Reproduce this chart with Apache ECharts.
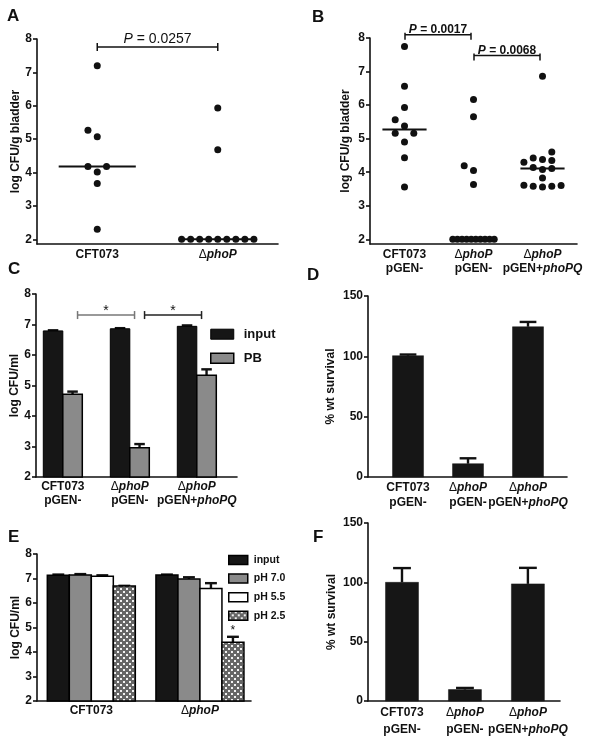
<!DOCTYPE html>
<html><head><meta charset="utf-8">
<script src="https://cdn.jsdelivr.net/npm/echarts@6/dist/echarts.min.js"></script>
<style>html,body{margin:0;padding:0;background:#fff}#c{width:602px;height:742px}</style>
</head><body><div id="c"></div>
<script>
// ===================== DATA =====================
const groups2 = ['CFT073', 'ΔphoP'];
const groups3 = ['CFT073\npGEN-', 'ΔphoP\npGEN-', 'ΔphoP\npGEN+phoPQ'];
const logTicks = [2, 3, 4, 5, 6, 7, 8];
const pctTicks = [0, 50, 100, 150];

// Panel A (log CFU/g bladder, individual mice)
const A_CFT073 = [7.2, 5.07, 5.27, 4.02, 4.18, 4.18, 3.67, 2.3];
const A_phoP = [5.93, 4.68, 2, 2, 2, 2, 2, 2, 2, 2, 2];
const A_pvalues = ['P = 0.0257'];
const A_bracketY = [7.76];

// Panel B
const B_CFT073 = [7.75, 6.56, 5.93, 5.38, 4.90, 5.56, 5.16, 5.16, 4.43, 3.56];
const B_phoP = [6.17, 5.65, 4.05, 4.19, 3.63, 2, 2, 2, 2, 2, 2, 2, 2, 2, 2];
const B_phoPQ = [6.86, 3.56, 3.58, 3.58, 3.61, 3.60, 3.83, 4.08, 4.14, 4.11, 4.30, 4.38, 4.42, 4.35, 4.60];
const B_pvalues = ['P = 0.0017', 'P = 0.0068'];
const B_bracketY = [8.10, 7.48];

// Panel C (polymyxin B)
const C_series = ['input', 'PB'];
const C_input = [6.79, 6.86, 6.94];
const C_input_err = [0.02, 0.02, 0.03];
const C_PB = [4.71, 2.96, 5.34];
const C_PB_err = [0.09, 0.12, 0.19];
const C_sig = ['*', '*'];
const C_bracketY = [7.31, 7.31];

// Panel D
const D_values = [100.5, 11, 124.5];
const D_err = [1, 4.5, 4];

// Panel E (acid)
const E_series = ['input', 'pH 7.0', 'pH 5.5', 'pH 2.5'];
const E_input = [7.13, 7.14];
const E_input_err = [0.03, 0.02];
const E_ph70 = [7.14, 6.98];
const E_ph70_err = [0.04, 0.07];
const E_ph55 = [7.09, 6.59];
const E_ph55_err = [0.04, 0.22];
const E_ph25 = [6.69, 4.40];
const E_ph25_err = [0.01, 0.22];
const E_ph25_sig = ['', '*'];

// Panel F
const F_values = [100, 9.6, 98.7];
const F_err = [12, 1.4, 13.5];

// ===================== HELPERS =====================
const FONT = "'Liberation Sans', Arial, Helvetica, sans-serif";
const INK = '#111';
const BLACK = '#161616';
const GRAY = '#8a8a8a';

const pat = document.createElement('canvas');
pat.width = 6; pat.height = 6;
(function () {
  const g = pat.getContext('2d');
  g.fillStyle = '#666'; g.fillRect(0, 0, 6, 6);
  g.fillStyle = '#f2f2f2'; g.fillRect(0, 0, 2, 2); g.fillRect(3, 3, 2, 2);
})();
const PATTERN = { image: pat, repeat: 'repeat' };

function median(a) {
  const s = a.slice().sort((x, y) => x - y);
  const n = s.length;
  return n % 2 ? s[(n - 1) / 2] : (s[n / 2 - 1] + s[n / 2]) / 2;
}

function richText(line) {
  return line.split(/(Δ|pho[A-Z]+)/).filter(t => t).map(t => {
    if (t === 'Δ') return '{d|Δ}';
    if (/^pho/.test(t)) return '{i|' + t + '}';
    return '{b|' + t + '}';
  }).join('');
}
function richLabel(label) { return label.split('\n').map(richText).join('\n'); }
function richStyles(lh, fs) {
  const base = { fontFamily: FONT, fontSize: fs || 12, color: INK, lineHeight: lh };
  return {
    b: Object.assign({}, base, { fontWeight: 'bold' }),
    i: Object.assign({}, base, { fontWeight: 'bold', fontStyle: 'italic' }),
    d: Object.assign({}, base, { fontWeight: 'normal' })
  };
}

const grids = [];
const xAxes = [];
const yAxes = [];
const series = [];

function addPanel(g) {
  const gi = grids.length;
  grids.push({ left: g.left, top: g.top, width: g.width, height: g.height, containLabel: false, outerBoundsMode: 'none' });
  xAxes.push({
    type: 'value', gridIndex: gi, min: g.xmin, max: g.xmax,
    axisLine: { show: true, onZero: false, lineStyle: { color: INK, width: 1.6 } },
    axisTick: { show: false }, splitLine: { show: false },
    axisLabel: {
      margin: g.labelMargin, customValues: g.labels.map((_, i) => i), hideOverlap: false,
      showMinLabel: true, showMaxLabel: true,
      formatter: v => richLabel(g.labels[Math.round(v)]),
      rich: richStyles(g.lineHeight), fontFamily: FONT, fontSize: 12
    }
  });
  yAxes.push({
    type: 'value', gridIndex: gi, min: g.ymin, max: g.ymax,
    axisLine: { show: true, onZero: false, lineStyle: { color: INK, width: 1.6 } },
    axisTick: { show: true, length: 4, customValues: g.ticks, lineStyle: { color: INK, width: 1.6 } },
    axisLabel: { margin: 5, customValues: g.ticks, hideOverlap: false, fontFamily: FONT, fontWeight: 'bold', fontSize: 12, color: INK },
    splitLine: { show: false },
    name: g.yName, nameLocation: 'middle', nameRotate: 90, nameGap: g.nameGap, nameMoveOverlap: false,
    nameTextStyle: { fontFamily: FONT, fontWeight: 'bold', fontSize: 12, color: INK }
  });
  return gi;
}

// beeswarm offsets (px) computed from the values and data order
function beeswarm(values, pxY, step, T, maxHalf) {
  const counts = {};
  values.forEach(v => { counts[v] = (counts[v] || 0) + 1; });
  const offs = new Array(values.length);
  const placed = [];
  const ties = {};
  values.forEach((v, i) => { if (counts[v] > 5) (ties[v] = ties[v] || []).push(i); });
  Object.keys(ties).forEach(k => {
    const idx = ties[k], n = idx.length;
    const half = Math.min(maxHalf, (n - 1) * step / 2);
    idx.forEach((i, j) => { offs[i] = -half + j * 2 * half / (n - 1); placed.push([offs[i], values[i] * pxY]); });
  });
  values.forEach((v, i) => {
    if (offs[i] !== undefined) return;
    for (let k = 0; k < 40; k++) {
      const slot = k === 0 ? 0 : (k % 2 === 1 ? -Math.ceil(k / 2) : Math.ceil(k / 2));
      const x = slot * step;
      const hit = placed.some(p => Math.abs(p[0] - x) < step * 0.9 && Math.abs(p[1] - v * pxY) < T);
      if (!hit) { offs[i] = x; placed.push([x, v * pxY]); break; }
    }
  });
  return offs;
}

function addScatterGroups(gi, g, groups) {
  const pxX = g.width / (g.xmax - g.xmin);
  const pxY = g.height / (g.ymax - g.ymin);
  const pts = [];
  const meds = [];
  groups.forEach((vals, c) => {
    const offs = beeswarm(vals, pxY, 9.3, 8, 0.3 * pxX);
    vals.forEach((v, i) => pts.push([c + offs[i] / pxX, v]));
    meds.push([c, median(vals)]);
  });
  series.push({
    type: 'custom', xAxisIndex: gi, yAxisIndex: gi, data: meds, z: 2,
    renderItem: (params, api) => {
      const a = api.coord([api.value(0) - 0.32, api.value(1)]);
      const b = api.coord([api.value(0) + 0.32, api.value(1)]);
      return { type: 'line', shape: { x1: a[0], y1: a[1], x2: b[0], y2: b[1] }, style: { stroke: INK, lineWidth: 2 } };
    }
  });
  series.push({
    type: 'scatter', xAxisIndex: gi, yAxisIndex: gi, data: pts, symbol: 'circle', symbolSize: 7, z: 3,
    itemStyle: { color: INK, opacity: 1 }, silent: true
  });
}

function addBrackets(gi, pairs, ys, texts, opt) {
  series.push({
    type: 'custom', xAxisIndex: gi, yAxisIndex: gi, z: 4,
    data: pairs.map((p, i) => [p[0], p[1], ys[i]]),
    renderItem: (params, api) => {
      const i = params.dataIndex;
      const a = api.coord([api.value(0), api.value(2)]);
      const b = api.coord([api.value(1), api.value(2)]);
      const x1 = a[0] + opt.dxL, x2 = b[0] + opt.dxR, y = a[1];
      const col = opt.colors ? opt.colors[i] : INK;
      const t = texts[i];
      const txt = t.charAt(0) === 'P' ? '{pi|P}{pr|' + t.slice(1) + '}' : '{s|' + t + '}';
      return {
        type: 'group', children: [
          { type: 'line', shape: { x1: x1, y1: y, x2: x2, y2: y }, style: { stroke: col, lineWidth: 1.5 } },
          { type: 'line', shape: { x1: x1, y1: y + opt.t0, x2: x1, y2: y + opt.t1 }, style: { stroke: col, lineWidth: 1.5 } },
          { type: 'line', shape: { x1: x2, y1: y + opt.t0, x2: x2, y2: y + opt.t1 }, style: { stroke: col, lineWidth: 1.5 } },
          {
            type: 'text', x: (x1 + x2) / 2, y: y - opt.textOff,
            style: {
              text: txt, align: 'center', verticalAlign: 'middle',
              rich: {
                pi: { fontFamily: FONT, fontSize: opt.fs, fontWeight: opt.fw, fontStyle: 'italic', fill: INK },
                pr: { fontFamily: FONT, fontSize: opt.fs, fontWeight: opt.fw, fill: INK },
                s: { fontFamily: FONT, fontSize: opt.fs, fontWeight: 'normal', fill: INK }
              }
            }
          }
        ]
      };
    }
  });
}

function addBars(gi, name, vals, errs, o) {
  series.push({
    type: 'custom', name: name, xAxisIndex: gi, yAxisIndex: gi, z: 2,
    itemStyle: { color: o.fill, borderColor: o.stroke, borderWidth: o.lw },
    data: vals.map((v, i) => [i, v, errs[i]]),
    renderItem: (params, api) => {
      const i = api.value(0), v = api.value(1), e = api.value(2);
      const p0 = api.coord([i, o.base]), p1 = api.coord([i, v]), p2 = api.coord([i, v + e]);
      const cx = p0[0] + o.off, w = o.w, cap = w * 0.54;
      const ch = [
        { type: 'line', shape: { x1: cx, y1: p1[1], x2: cx, y2: p2[1] }, style: { stroke: INK, lineWidth: 2.4 } },
        { type: 'line', shape: { x1: cx - cap / 2, y1: p2[1], x2: cx + cap / 2, y2: p2[1] }, style: { stroke: INK, lineWidth: 2.4 } },
        { type: 'rect', shape: { x: cx - w / 2, y: p1[1], width: w, height: p0[1] - p1[1] }, style: { fill: o.fill, stroke: o.stroke, lineWidth: o.lw } }
      ];
      if (o.sig && o.sig[params.dataIndex]) {
        ch.push({ type: 'text', x: cx, y: p2[1] - 6, style: { text: o.sig[params.dataIndex], align: 'center', verticalAlign: 'middle', fontFamily: FONT, fontSize: 12, fill: INK } });
      }
      return { type: 'group', children: ch };
    }
  });
}

// ===================== PANELS =====================
// A
const gA = { left: 37, top: 39, width: 241, height: 205, xmin: -0.5, xmax: 1.5, ymin: 1.86, ymax: 8, ticks: logTicks,
  labels: groups2, labelMargin: 4, lineHeight: 14, yName: 'log CFU/g bladder', nameGap: 15 };
const iA = addPanel(gA);
addScatterGroups(iA, gA, [A_CFT073, A_phoP]);
addBrackets(iA, [[0, 1]], A_bracketY, A_pvalues, { dxL: 0, dxR: 0, t0: -4, t1: 4, textOff: 7.5, fs: 14, fw: 'normal' });

// B
const gB = { left: 370, top: 38, width: 207, height: 206, xmin: -0.5, xmax: 2.5, ymin: 1.86, ymax: 8, ticks: logTicks,
  labels: groups3, labelMargin: 4, lineHeight: 14, yName: 'log CFU/g bladder', nameGap: 18 };
const iB = addPanel(gB);
addScatterGroups(iB, gB, [B_CFT073, B_phoP, B_phoPQ]);
addBrackets(iB, [[0, 1], [1, 2]], B_bracketY, B_pvalues, { dxL: 0.5, dxR: -2.5, t0: -2, t1: 5, textOff: 5, fs: 12, fw: 'bold' });

// C
const gC = { left: 36, top: 294, width: 201, height: 183, xmin: -0.4, xmax: 2.6, ymin: 2, ymax: 8, ticks: logTicks,
  labels: groups3, labelMargin: 3, lineHeight: 14, yName: 'log CFU/ml', nameGap: 15 };
const iC = addPanel(gC);
addBars(iC, C_series[0], C_input, C_input_err, { base: 2, off: -9.75, w: 19.5, fill: BLACK, stroke: '#000', lw: 1 });
addBars(iC, C_series[1], C_PB, C_PB_err, { base: 2, off: 9.75, w: 19.5, fill: GRAY, stroke: '#000', lw: 1.5 });
addBrackets(iC, [[0, 1], [1, 2]], C_bracketY, C_sig, { dxL: 14.75, dxR: 4.75, t0: -4, t1: 4, textOff: 3.5, fs: 14, fw: 'normal', colors: ['#777', '#222'] });

// D
const gD = { left: 368, top: 296, width: 199, height: 181, xmin: -0.667, xmax: 2.65, ymin: 0, ymax: 150, ticks: pctTicks,
  labels: groups3, labelMargin: 3, lineHeight: 15, yName: '% wt survival', nameGap: 31 };
const iD = addPanel(gD);
addBars(iD, 'D', D_values, D_err, { base: 0, off: 0, w: 31, fill: BLACK, stroke: BLACK, lw: 0.5 });

// E
const gE = { left: 37, top: 554, width: 214, height: 147, xmin: -0.5, xmax: 1.47, ymin: 2, ymax: 8, ticks: logTicks,
  labels: groups2, labelMargin: 3, lineHeight: 14, yName: 'log CFU/ml', nameGap: 15 };
const iE = addPanel(gE);
addBars(iE, E_series[0], E_input, E_input_err, { base: 2, off: -33, w: 22, fill: BLACK, stroke: '#000', lw: 1.5 });
addBars(iE, E_series[1], E_ph70, E_ph70_err, { base: 2, off: -11, w: 22, fill: GRAY, stroke: '#000', lw: 1.5 });
addBars(iE, E_series[2], E_ph55, E_ph55_err, { base: 2, off: 11, w: 22, fill: '#fff', stroke: '#000', lw: 1.5 });
addBars(iE, E_series[3], E_ph25, E_ph25_err, { base: 2, off: 33, w: 22, fill: PATTERN, stroke: '#000', lw: 1.5, sig: E_ph25_sig });

// F
const gF = { left: 368, top: 523, width: 192, height: 178, xmin: -0.54, xmax: 2.51, ymin: 0, ymax: 150, ticks: pctTicks,
  labels: groups3, labelMargin: 3, lineHeight: 17, yName: '% wt survival', nameGap: 30 };
const iF = addPanel(gF);
addBars(iF, 'F', F_values, F_err, { base: 0, off: 0, w: 33, fill: BLACK, stroke: BLACK, lw: 0.5 });

// panel letters
const letters = [['A', 7, 16], ['B', 312, 17.5], ['C', 8, 269.5], ['D', 307, 275], ['E', 8, 537], ['F', 313, 537]];

const legendText = (fs, lh, pad) => ({ fontFamily: FONT, fontWeight: 'bold', fontSize: fs, color: INK, lineHeight: lh, padding: [0, 0, 0, pad] });

const option = {
  animation: false,
  backgroundColor: '#fff',
  grid: grids, xAxis: xAxes, yAxis: yAxes, series: series,
  legend: [
    {
      orient: 'vertical', left: 210, top: 327.7, padding: 0, itemWidth: 23, itemHeight: 10, itemGap: 11,
      selectedMode: false, textStyle: legendText(13, 10, 5),
      data: [
        { name: C_series[0], icon: 'rect', itemStyle: { color: BLACK, borderColor: '#000', borderWidth: 1 } },
        { name: C_series[1], icon: 'rect', itemStyle: { color: GRAY, borderColor: '#000', borderWidth: 1.5 } }
      ]
    },
    {
      orient: 'vertical', left: 228, top: 554.5, padding: 0, itemWidth: 19, itemHeight: 9, itemGap: 7.6,
      selectedMode: false, textStyle: legendText(10.5, 9, 1),
      data: [
        { name: E_series[0], icon: 'rect', itemStyle: { color: BLACK, borderColor: '#000', borderWidth: 1.5 } },
        { name: E_series[1], icon: 'rect', itemStyle: { color: GRAY, borderColor: '#000', borderWidth: 1.5 } },
        { name: E_series[2], icon: 'rect', itemStyle: { color: '#fff', borderColor: '#000', borderWidth: 1.5 } },
        { name: E_series[3], icon: 'rect', itemStyle: { color: PATTERN, borderColor: '#000', borderWidth: 1.5 } }
      ]
    }
  ],
  graphic: letters.map(l => ({
    type: 'text', x: l[1], y: l[2],
    style: { text: l[0], fontFamily: FONT, fontWeight: 'bold', fontSize: 17, fill: INK, align: 'left', verticalAlign: 'middle' }
  }))
};

const chart = echarts.init(document.getElementById('c'), null, { renderer: 'canvas', width: 602, height: 742 });
chart.setOption(option);
</script>
</body></html>
